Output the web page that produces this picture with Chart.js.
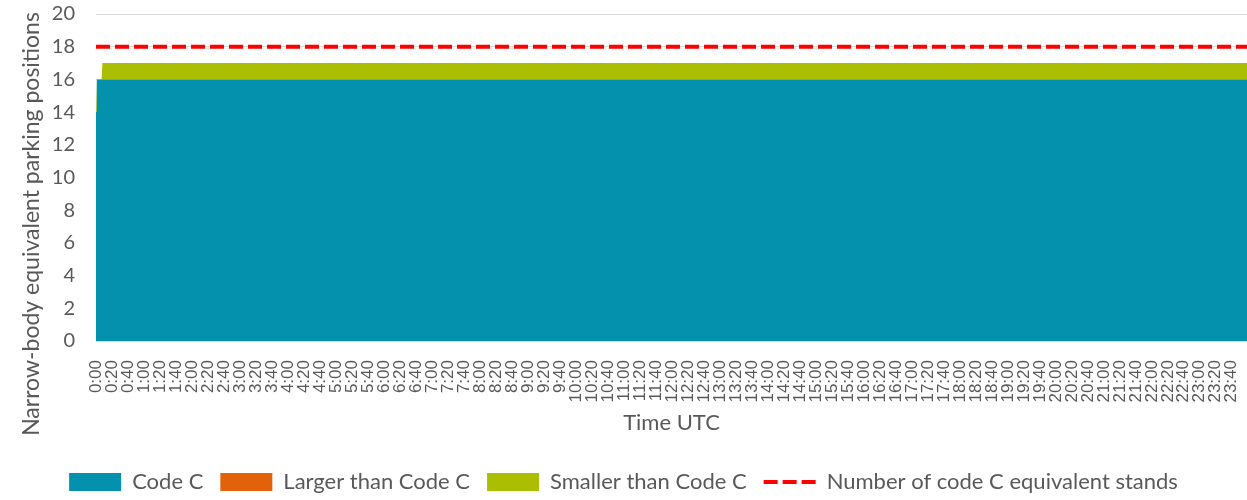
<!DOCTYPE html>
<html>
<head>
<meta charset="utf-8">
<script src="https://cdn.jsdelivr.net/npm/chart.js@4"></script>
<style>
  html, body { margin: 0; padding: 0; background: #fff; }
  #wrap { width: 1247px; height: 500px; }
</style>
</head>
<body>
<div id="wrap"><canvas id="grafica"></canvas></div>
<script>
// minutes after 0:00 UTC
const minutos = [0, 1, 7, 8, 1439];
const codeC = [14, 16, 16, 16, 16];
const largerThanC = [0, 0, 0, 0, 0];
const smallerThanC = [0, 0, 0, 1, 1];
const standsC = [18, 18, 18, 18, 18];

const etiquetasHora = [
  '0:00', '0:20', '0:40', '1:00', '1:20', '1:40', '2:00', '2:20', '2:40',
  '3:00', '3:20', '3:40', '4:00', '4:20', '4:40', '5:00', '5:20', '5:40',
  '6:00', '6:20', '6:40', '7:00', '7:20', '7:40', '8:00', '8:20', '8:40',
  '9:00', '9:20', '9:40', '10:00', '10:20', '10:40', '11:00', '11:20', '11:40',
  '12:00', '12:20', '12:40', '13:00', '13:20', '13:40', '14:00', '14:20', '14:40',
  '15:00', '15:20', '15:40', '16:00', '16:20', '16:40', '17:00', '17:20', '17:40',
  '18:00', '18:20', '18:40', '19:00', '19:20', '19:40', '20:00', '20:20', '20:40',
  '21:00', '21:20', '21:40', '22:00', '22:20', '22:40', '23:00', '23:20', '23:40'
];

const tituloY = 'Narrow-body equivalent parking positions';

function puntos(valores) {
  return valores.map((v, i) => ({ x: minutos[i], y: v }));
}

const gris = '#595959';
const fuente = 'Lato, "Open Sans", sans-serif';

// y title drawn by hand so it can sit lower than the plot centre, like the original
const tituloVertical = {
  id: 'tituloVertical',
  afterDraw(chart) {
    const c = chart.ctx;
    c.save();
    c.translate(32, 224);
    c.rotate(-Math.PI / 2);
    c.fillStyle = gris;
    c.font = '23px ' + fuente;
    c.textAlign = 'center';
    c.textBaseline = 'middle';
    c.fillText(tituloY, 0, 0);
    c.restore();
  }
};

const ctx = document.getElementById('grafica').getContext('2d');
new Chart(ctx, {
  type: 'line',
  data: {
    datasets: [
      {
        label: 'Code C',
        data: puntos(codeC),
        backgroundColor: '#0391AD',
        borderWidth: 0,
        pointRadius: 0,
        fill: 'origin',
        stack: 'areas',
        pointStyle: 'rect'
      },
      {
        // all zero: nothing to fill, only the legend entry shows
        label: 'Larger than Code C',
        data: puntos(largerThanC),
        backgroundColor: '#E2620C',
        borderWidth: 0,
        pointRadius: 0,
        fill: false,
        stack: 'areas',
        pointStyle: 'rect'
      },
      {
        label: 'Smaller than Code C',
        data: puntos(smallerThanC),
        backgroundColor: '#ABBF00',
        borderWidth: 0,
        pointRadius: 0,
        fill: '-1',
        stack: 'areas',
        pointStyle: 'rect'
      },
      {
        label: 'Number of code C equivalent stands',
        data: puntos(standsC),
        borderColor: '#FF0000',
        backgroundColor: '#FF0000',
        borderWidth: 4,
        borderDash: [14, 5],
        pointRadius: 0,
        fill: false,
        stack: 'linea',
        pointStyle: 'line'
      }
    ]
  },
  options: {
    responsive: true,
    maintainAspectRatio: false,
    animation: false,
    layout: { padding: { left: 0, right: 0, top: 14, bottom: -3 } },
    plugins: {
      tooltip: { enabled: false },
      legend: {
        position: 'bottom',
        labels: {
          usePointStyle: true,
          pointStyleWidth: 52,
          boxHeight: 18,
          padding: 17,
          color: gris,
          font: { family: fuente, size: 22 },
          generateLabels(chart) {
            const items = Chart.defaults.plugins.legend.labels.generateLabels(chart);
            items.forEach((it) => {
              const ds = chart.data.datasets[it.datasetIndex];
              if (ds.borderDash) {
                it.lineDash = ds.borderDash;
                it.lineWidth = ds.borderWidth;
                it.strokeStyle = ds.borderColor;
              }
            });
            return items;
          }
        }
      }
    },
    scales: {
      x: {
        type: 'linear',
        min: 0,
        max: 1439,
        grid: { display: false },
        border: { display: true, color: '#D9D9D9' },
        title: {
          display: true,
          text: 'Time UTC',
          color: gris,
          font: { family: fuente, size: 22 },
          padding: { top: 4, bottom: 18 }
        },
        ticks: {
          stepSize: 20,
          autoSkip: false,
          includeBounds: false,
          maxTicksLimit: 200,
          minRotation: 90,
          maxRotation: 90,
          padding: 11,
          color: gris,
          font: { family: '"Liberation Sans", Arial, sans-serif', size: 17 },
          callback: (v) => etiquetasHora[v / 20]
        },
        afterFit(s) {
          s.height = 113;
          s.paddingLeft = 0;
          s.paddingRight = 0;
        }
      },
      y: {
        stacked: true,
        min: 0,
        max: 20,
        grid: { color: '#D9D9D9', drawTicks: false },
        border: { display: false },
        ticks: {
          stepSize: 2,
          padding: 21,
          color: gris,
          font: { family: fuente, size: 20 }
        },
        afterFit(s) {
          s.width = 96;
          s.paddingTop = 0;
          s.paddingBottom = 0;
        }
      }
    }
  },
  plugins: [tituloVertical]
});
</script>
</body>
</html>
